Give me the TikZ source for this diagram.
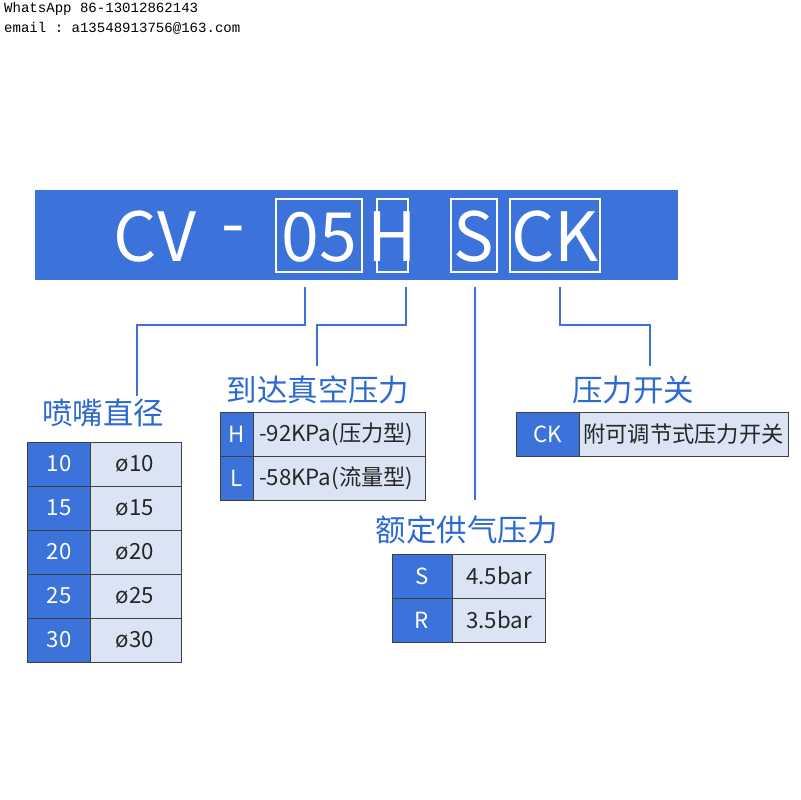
\documentclass[tikz,border=0pt]{standalone}
\usepackage{fontspec}
\setmainfont{Noto Sans CJK SC}
\setmonofont{Liberation Mono}
\begin{document}
\begin{tikzpicture}[x=0.3mm,y=-0.3mm]
    % Define colors
    \definecolor{keyblue}{RGB}{59,115,218}
    \definecolor{cellblue}{RGB}{218,228,245}
    \definecolor{titleblue}{RGB}{45,105,210}
    \tikzset{
        key/.style={draw=black!75, line width=0.6pt, fill=keyblue},
        cell/.style={draw=black!75, line width=0.6pt, fill=cellblue},
        keytext/.style={text=white, font=\fontsize{19pt}{19pt}\selectfont},
        celltext/.style={text=black!85, font=\fontsize{19pt}{19pt}\selectfont},
        title/.style={text=titleblue, font=\fontsize{26pt}{26pt}\selectfont},
        wire/.style={draw=keyblue, line width=1.8pt},
        codebox/.style={draw=white, line width=1.6pt},
    }
    \useasboundingbox (0,0) rectangle (800,800);

    % Watermark
    \node[anchor=west, font=\ttfamily\fontsize{12pt}{12pt}\selectfont] (wa) at (0,9) {WhatsApp 86-13012862143};
    \node[anchor=west, font=\ttfamily\fontsize{12pt}{12pt}\selectfont] (em) at (0,28) {email : a13548913756@163.com};

    % Banner
    \fill[keyblue] (35,190) rectangle (678,280);
    \draw[codebox] (276,199) rectangle (362,272);
    \draw[codebox] (377,199) rectangle (408,272);
    \draw[codebox] (451,199) rectangle (497,272);
    \draw[codebox] (510,199) rectangle (600,272);
    \begin{scope}[every node/.style={text=white, font=\fontsize{58pt}{58pt}\selectfont}]
        \node (cv) at (155,237) {CV};
        \node (dash) at (233,237) {-};
        \node (b05) at (319,237) {05};
        \node (bh) at (392.5,237) {H};
        \node (bs) at (474,237) {S};
        \node (bck) at (555,237) {CK};
    \end{scope}

    % Connectors
    \draw[wire] (305,287) -- (305,325) -- (137,325) -- (137,396);
    \draw[wire] (406,287) -- (406,325) -- (317,325) -- (317,366);
    \draw[wire] (475,287) -- (475,500);
    \draw[wire] (560,287) -- (560,325) -- (650,325) -- (650,366);

    % Titles
    \node[title] (t1) at (103,413) {喷嘴直径};
    \node[title] (t2) at (318,390) {到达真空压力};
    \node[title] (t3) at (633,390) {压力开关};
    \node[title] (t4) at (467,530) {额定供气压力};

    % Table: nozzle
    \foreach \k/\v [count=\i from 0] in {10/ø10,15/ø15,20/ø20,25/ø25,30/ø30} {
        \draw[key] (27,442+44*\i) rectangle (90,486+44*\i);
        \draw[cell] (90,442+44*\i) rectangle (181,486+44*\i);
        \node[keytext] at (59,464+44*\i) {\k};
        \node[celltext] at (135,464+44*\i) {\v};
    }
    % Table: vacuum
    \foreach \k/\v [count=\i from 0] in {H/-92KPa(压力型),L/-58KPa(流量型)} {
        \draw[key] (220,412+44*\i) rectangle (253,456+44*\i);
        \draw[cell] (253,412+44*\i) rectangle (425,456+44*\i);
        \node[keytext] at (236.5,434+44*\i) {\k};
        \node[celltext, anchor=west] at (255,434+44*\i) {\v};
    }
    % Table: supply
    \foreach \k/\v [count=\i from 0] in {S/4.5bar,R/3.5bar} {
        \draw[key] (392,554+44*\i) rectangle (452,598+44*\i);
        \draw[cell] (452,554+44*\i) rectangle (545,598+44*\i);
        \node[keytext] at (422,576+44*\i) {\k};
        \node[celltext] at (499,576+44*\i) {\v};
    }
    % Table: switch
    \draw[key] (516,412) rectangle (579,456);
    \draw[cell] (579,412) rectangle (788,456);
    \node[keytext] (ck) at (547.5,434) {CK};
    \node[celltext] (ckv) at (683.5,434) {附可调节式压力开关};
\end{tikzpicture}
\end{document}
